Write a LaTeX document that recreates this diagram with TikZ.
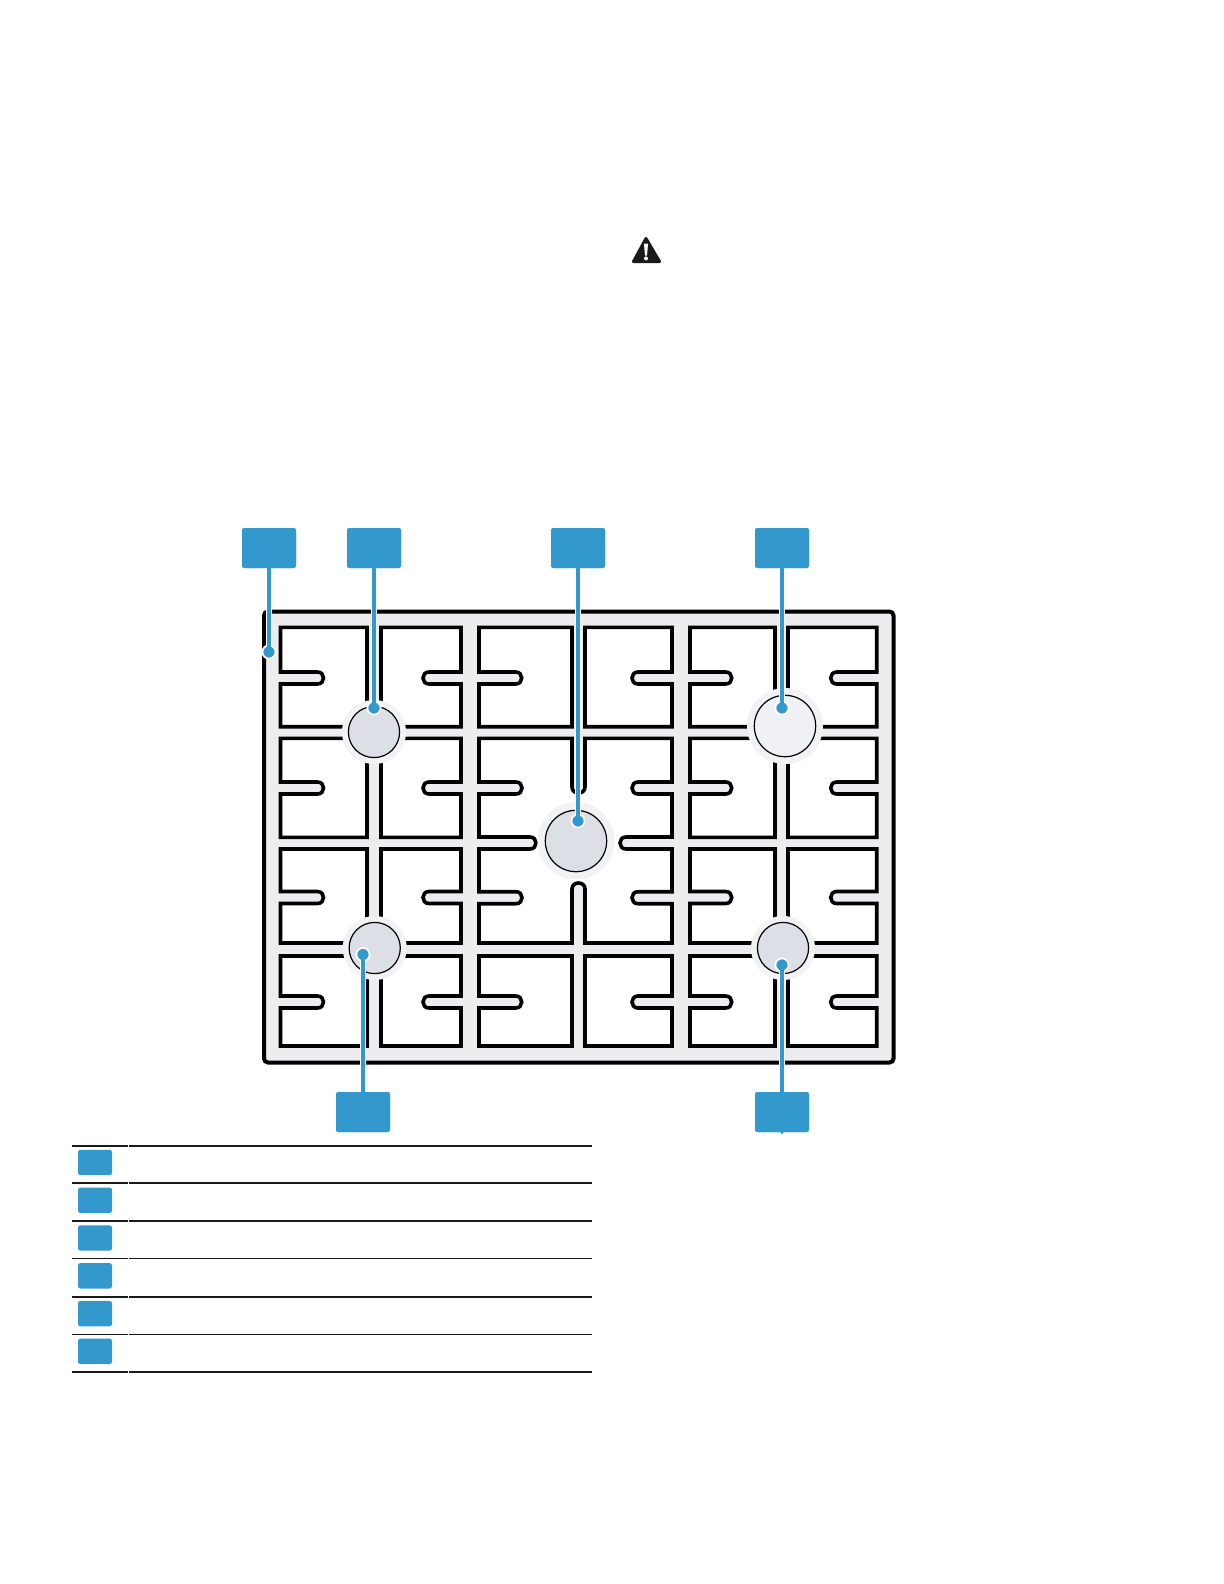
\documentclass[tikz,border=0pt]{standalone}
\definecolor{callblue}{HTML}{3399CC}
\definecolor{grate}{HTML}{EDEDEF}
\definecolor{ringc}{HTML}{F2F2F4}
\definecolor{capc}{HTML}{DCDFE5}
\definecolor{caplight}{HTML}{F0F1F4}
\definecolor{inkc}{HTML}{1A1A1A}
% cell with tongue from the left: l r t b tonguey tip
\newcommand{\cellL}[6]{\draw[cellbox] (#1,#3) -- (#2,#3) -- (#2,#4) -- (#1,#4) -- (#1,{#5+6})
  -- ({#6-6},{#5+6}) .. controls ({#6+2},{#5+6}) and ({#6+2},{#5-6}) .. ({#6-6},{#5-6}) -- (#1,{#5-6}) -- cycle;}
% cell with tongue from the right
\newcommand{\cellR}[6]{\draw[cellbox] (#1,#3) -- (#2,#3) -- (#2,{#5-6})
  -- ({#6+6},{#5-6}) .. controls ({#6-2},{#5-6}) and ({#6-2},{#5+6}) .. ({#6+6},{#5+6}) -- (#2,{#5+6})
  -- (#2,#4) -- (#1,#4) -- cycle;}
\tikzset{
  cellbox/.style={draw=black,fill=white,line width=1.8pt,line join=miter},
  calloutbox/.style={fill=callblue,rounded corners=1.2pt,inner sep=0pt,minimum width=27pt,minimum height=20pt},
  legendbox/.style={fill=callblue,rounded corners=1.2pt,inner sep=0pt,minimum width=17pt,minimum height=12.7pt},
  leaderdot/.style={circle,fill=callblue,draw=white,line width=0.9pt,inner sep=0pt,minimum size=6.6pt},
  leaderhalo/.style={draw=white,line width=3.4pt},
  leader/.style={draw=callblue,line width=2.15pt},
  ringdisc/.style={fill=ringc},
  capdisc/.style={draw=black,line width=0.6pt},
  rulethick/.style={draw=inkc,line width=1pt},
  rulethin/.style={draw=inkc,line width=.6pt},
}
\begin{document}
\begin{tikzpicture}[x=.5pt,y=-.5pt]
\useasboundingbox (0,0) rectangle (1224,1584);
% warning triangle
\fill[inkc,draw=inkc,line width=1.5pt,line join=round] (646,238.5) -- (659.5,261.5) -- (633.5,261.5) -- cycle;
\fill[white] (643.9,243.5) -- (648.1,243.5) -- (647,255.5) -- (645,255.5) -- cycle;
\fill[white] (646,258.4) circle (1pt);
% grate
\draw[draw=black,fill=grate,line width=2pt,rounded corners=2pt] (264,611.5) rectangle (893.5,1062.5);
% row 1
\cellL{280.5}{367}{627.3}{726.7}{678}{323.5}
\cellR{381}{461}{627.3}{726.7}{678}{423}
\cellL{479}{572}{627.3}{726.7}{678}{521.7}
\cellR{585}{672}{627.3}{726.7}{678}{632}
\cellL{690}{775}{627.3}{726.7}{678}{731.7}
\cellR{788}{876.7}{627.3}{726.7}{678}{830.7}
% row 2
\cellL{280.5}{367}{738.3}{837.3}{788}{323.5}
\cellR{381}{461}{738.3}{837.3}{788}{423}
\cellL{690}{775}{738.3}{837.3}{788}{731.7}
\cellR{788}{876.7}{738.3}{837.3}{788}{830.7}
% row 3
\cellL{280.5}{367}{849}{943}{897.5}{323.5}
\cellR{381}{461}{849}{943}{897.5}{423}
\cellL{690}{775}{849}{943}{897.5}{731.7}
\cellR{788}{876.7}{849}{943}{897.5}{830.7}
% row 4
\cellL{280.5}{367}{956}{1046}{1002}{323.5}
\cellR{381}{461}{956}{1046}{1002}{423}
\cellL{479}{572}{956}{1046}{1002}{521.7}
\cellR{585}{672}{956}{1046}{1002}{632}
\cellL{690}{775}{956}{1046}{1002}{731.7}
\cellR{788}{876.7}{956}{1046}{1002}{830.7}
% centre double cell
\draw[cellbox] (479,738.3) -- (572,738.3) -- (572,787)
  .. controls (572,795) and (585,795) .. (585,787) -- (585,738.3) -- (672,738.3)
  -- (672,782) -- (638,782) .. controls (630,782) and (630,794) .. (638,794) -- (672,794)
  -- (672,837) -- (626,837) .. controls (618,837) and (618,849) .. (626,849) -- (672,849)
  -- (672,891.7) -- (638,891.7) .. controls (630,891.7) and (630,903.7) .. (638,903.7) -- (672,903.7)
  -- (672,943) -- (585,943) -- (585,889)
  .. controls (585,881) and (572,881) .. (572,889) -- (572,943) -- (479,943)
  -- (479,903.7) -- (516,903.7) .. controls (524,903.7) and (524,891.7) .. (516,891.7) -- (479,891.7)
  -- (479,849) -- (530,849) .. controls (538,849) and (538,837) .. (530,837) -- (479,837)
  -- (479,794) -- (516,794) .. controls (524,794) and (524,782) .. (516,782) -- (479,782) -- cycle;
% burners
\foreach \x/\y/\rr in {374/732/32, 576/841/38.5, 785/726/38, 374.7/948/32, 783/948/32}
  \fill[ringdisc] (\x,\y) circle ({\rr*.5pt});
\foreach \x/\y/\rr in {374/732/25.6, 576/841/30.7, 374.7/948/25.6, 783/948/25.6}
  \draw[capdisc,fill=capc] (\x,\y) circle ({\rr*.5pt});
\draw[capdisc,fill=caplight] (785,726) circle (15.35pt);
% callouts
\node[calloutbox] (c1) at (269,548) {};
\node[calloutbox] (c2) at (374,548) {};
\node[calloutbox] (c3) at (578,548) {};
\node[calloutbox] (c4) at (782,548) {};
\node[calloutbox] (c5) at (363,1112) {};
\node[calloutbox] (c6) at (782,1112) {};
\path (269,652) coordinate (p1) (374,708) coordinate (p2) (578,821) coordinate (p3)
      (782,708) coordinate (p4) (363,954.5) coordinate (p5) (782,965) coordinate (p6);
\foreach \i in {1,...,6} {
  \draw[leaderhalo] (c\i) -- (p\i);
  \node[leaderdot] (d\i) at (p\i) {};
}
\foreach \i in {1,...,6} {
  \draw[leader] (c\i) -- (d\i.center);
  \fill[callblue] (d\i.center) circle (2.4pt);
  \node[calloutbox] at (c\i) {};
}
\fill[callblue] (780,1131.5) -- (784,1131.5) -- (782,1134.5) -- cycle;
% legend
\draw[rulethick] (72,1145.7) -- (127.7,1145.7);
\draw[rulethick] (129,1145.7) -- (592,1145.7);
\foreach \y in {1183,1221,1258.7,1297,1334.6,1372} {
  \draw[rulethin] (72,\y) -- (127.7,\y);
  \draw[rulethin] (129,\y) -- (592,\y);
}
\node[legendbox] (k1) at (95,1162.5) {};
\node[legendbox] (k2) at (95,1200.3) {};
\node[legendbox] (k3) at (95,1238) {};
\node[legendbox] (k4) at (95,1275.8) {};
\node[legendbox] (k5) at (95,1313.6) {};
\node[legendbox] (k6) at (95,1351.4) {};
\end{tikzpicture}
\end{document}
